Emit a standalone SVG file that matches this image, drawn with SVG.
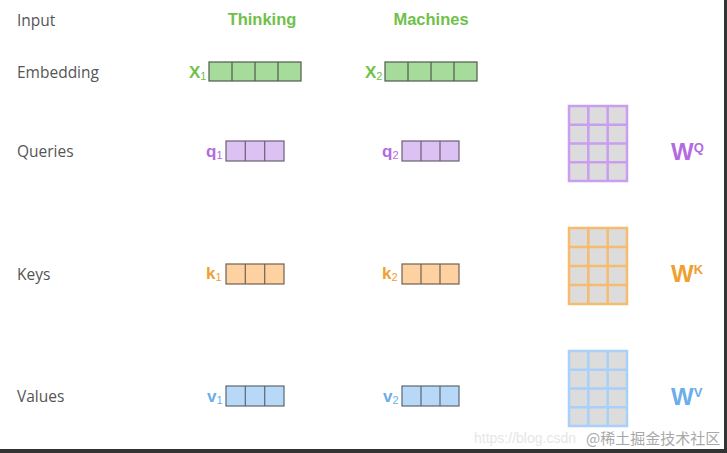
<svg xmlns="http://www.w3.org/2000/svg" width="727" height="453" viewBox="0 0 727 453">
<style>
.lbl{font-family:"Open Sans","Noto Sans",sans-serif;font-size:15.5px;fill:#555;}
.word{font-family:"Liberation Sans",Arial,sans-serif;font-size:16.5px;font-weight:bold;fill:#70c04a;}
.var{font-family:"Liberation Sans",Arial,sans-serif;font-weight:bold;font-size:17px;}
.sub{font-size:11px;font-weight:normal;}
.g{fill:#70c04a;} .p{fill:#b36ae2;} .o{fill:#f0a030;} .b{fill:#6aaeea;}
.emb{fill:#a6db9c;stroke:#4e5a4e;stroke-width:1.2;}
.q{fill:#dcc2f3;stroke:#6a5f75;stroke-width:1.2;}
.k{fill:#fdd2a0;stroke:#6e6255;stroke-width:1.2;}
.v{fill:#b8d8f8;stroke:#5d6670;stroke-width:1.2;}
.cell{fill:#dcdcdc;}
.wp{stroke:#c99df0;} .wo{stroke:#f5bb6e;} .wb{stroke:#a8d0f8;}
.wl{font-family:"Liberation Sans",Arial,sans-serif;font-weight:bold;font-size:24px;}
.ws{font-size:13px;}
</style>
<rect width="727" height="453" fill="#fff"/>
<rect x="724" y="0" width="3" height="453" fill="#333"/>
<rect x="0" y="449" width="727" height="4" fill="#333"/>

<g id="labels">
<text class="lbl" x="17" y="26">Input</text>
<text class="lbl" x="17" y="78">Embedding</text>
<text class="lbl" x="17" y="157">Queries</text>
<text class="lbl" x="17" y="280">Keys</text>
<text class="lbl" x="17" y="402">Values</text>
</g>

<g id="input-thinking"><text class="word" x="262" y="25" text-anchor="middle">Thinking</text></g>
<g id="input-machines"><text class="word" x="431" y="25" text-anchor="middle">Machines</text></g>

<g id="x1">
<text class="var g" x="189" y="78">X<tspan class="sub" dy="2">1</tspan></text>
<rect class="emb" x="209" y="62" width="92" height="19"/>
<path d="M232 62V81M255 62V81M278 62V81" stroke="#4e5a4e" stroke-width="1.2"/>
</g>
<g id="x2">
<text class="var g" x="365" y="78">X<tspan class="sub" dy="2">2</tspan></text>
<rect class="emb" x="385" y="62" width="92" height="19"/>
<path d="M408 62V81M431 62V81M454 62V81" stroke="#4e5a4e" stroke-width="1.2"/>
</g>

<g id="q1">
<text class="var p" x="206" y="157">q<tspan class="sub" dy="2">1</tspan></text>
<rect class="q" x="226" y="141" width="58" height="20"/>
<path d="M245.3 141V161M264.7 141V161" stroke="#6a5f75" stroke-width="1.2"/>
</g>
<g id="q2">
<text class="var p" x="382" y="157">q<tspan class="sub" dy="2">2</tspan></text>
<rect class="q" x="402" y="141" width="57" height="20"/>
<path d="M421 141V161M440 141V161" stroke="#6a5f75" stroke-width="1.2"/>
</g>

<g id="k1">
<text class="var o" x="206" y="279">k<tspan class="sub" dy="2">1</tspan></text>
<rect class="k" x="226" y="264" width="58" height="20"/>
<path d="M245.3 264V284M264.7 264V284" stroke="#6e6255" stroke-width="1.2"/>
</g>
<g id="k2">
<text class="var o" x="382" y="279">k<tspan class="sub" dy="2">2</tspan></text>
<rect class="k" x="402" y="264" width="57" height="20"/>
<path d="M421 264V284M440 264V284" stroke="#6e6255" stroke-width="1.2"/>
</g>

<g id="v1">
<text class="var b" x="207" y="402">v<tspan class="sub" dy="2">1</tspan></text>
<rect class="v" x="226" y="386" width="58" height="20"/>
<path d="M245.3 386V406M264.7 386V406" stroke="#5d6670" stroke-width="1.2"/>
</g>
<g id="v2">
<text class="var b" x="383" y="402">v<tspan class="sub" dy="2">2</tspan></text>
<rect class="v" x="402" y="386" width="57" height="20"/>
<path d="M421 386V406M440 386V406" stroke="#5d6670" stroke-width="1.2"/>
</g>

<g id="wq">
<rect class="cell wp" x="569" y="106" width="58" height="75" stroke-width="2.5"/>
<path class="wp" d="M588.3 106V181M607.7 106V181M569 124.75H627M569 143.5H627M569 162.25H627" stroke-width="2.5" fill="none"/>
<text class="wl p" x="671" y="160">W<tspan class="ws" dy="-8">Q</tspan></text>
</g>
<g id="wk">
<rect class="cell wo" x="569" y="228" width="58" height="76" stroke-width="2.5"/>
<path class="wo" d="M588.3 228V304M607.7 228V304M569 247H627M569 266H627M569 285H627" stroke-width="2.5" fill="none"/>
<text class="wl o" x="671" y="282">W<tspan class="ws" dy="-8">K</tspan></text>
</g>
<g id="wv">
<rect class="cell wb" x="569" y="351" width="58" height="75" stroke-width="2.5"/>
<path class="wb" d="M588.3 351V426M607.7 351V426M569 369.75H627M569 388.5H627M569 407.25H627" stroke-width="2.5" fill="none"/>
<text class="wl b" x="671" y="405">W<tspan class="ws" dy="-8">V</tspan></text>
</g>

<g id="watermark">
<text x="474" y="443" font-family="'Liberation Sans',Arial,sans-serif" font-size="14" fill="#e6e6e6">https://blog.csdn</text>
<text x="586" y="444" font-family="'Noto Sans CJK SC',sans-serif" font-size="15" fill="#a8a8a8">@稀土掘金技术社区</text>
</g>
</svg>
